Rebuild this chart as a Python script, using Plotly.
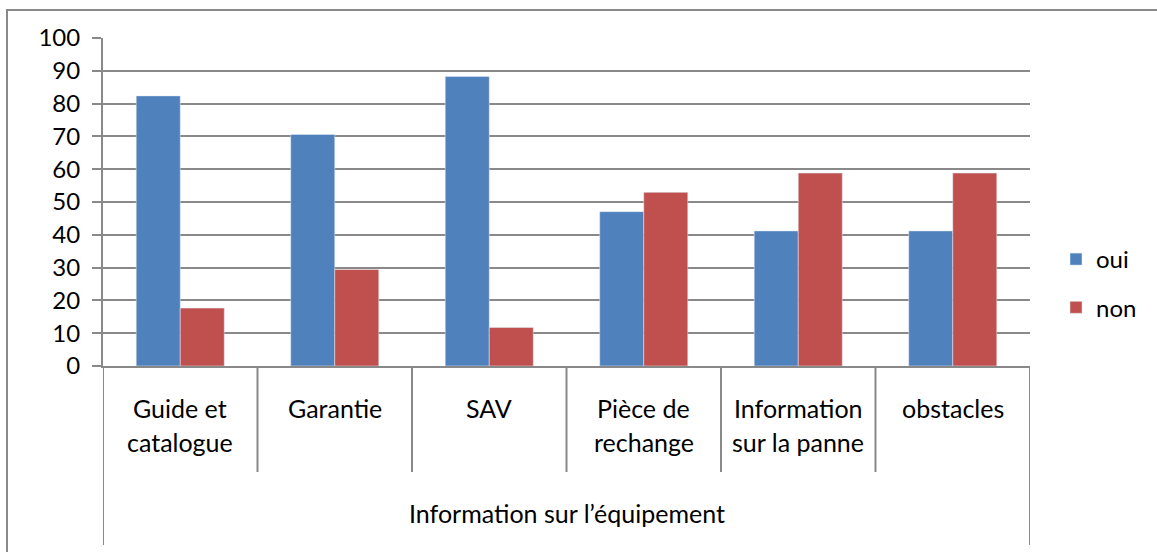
import plotly.graph_objects as go

categories = ["Guide et<br>catalogue", "Garantie", "SAV", "Pièce de<br>rechange",
              "Information<br>sur la panne", "obstacles"]
oui = [82.35, 70.59, 88.24, 47.06, 41.18, 41.18]
non = [17.65, 29.41, 11.76, 52.94, 58.82, 58.82]
series_names = ["oui", "non"]
group_title = "Information sur l’équipement"
y_ticks = list(range(0, 101, 10))

BLUE = "#4F81BD"
RED = "#C0504D"
GRID = "#898989"
FONT = "Lato"
FS = 25

W, H = 1157, 552
L, R, T, B = 103, 127, 38, 186
PH = H - T - B

def py(px):
    return (H - B - px) / PH

fig = go.Figure()
idx = list(range(len(categories)))
fig.add_trace(go.Bar(x=idx, y=oui, name=series_names[0], marker_color=BLUE,
                     legendgroup="a"))
fig.add_trace(go.Bar(x=idx, y=non, name=series_names[1], marker_color=RED,
                     legendgroup="b"))

annotations = []
for i, cat in enumerate(categories):
    lines = cat.split("<br>")
    ys = [408, 442]
    for j, line in enumerate(lines):
        annotations.append(dict(x=i, xref="x", y=py(ys[j]), yref="paper",
                                text=line, showarrow=False, yanchor="middle",
                                xanchor="center", font=dict(size=FS, color="#000", family=FONT)))
annotations.append(dict(x=(len(categories) - 1) / 2, xref="x", y=py(513), yref="paper",
                        text=group_title, showarrow=False, yanchor="middle",
                        font=dict(size=FS, color="#000", family=FONT)))

shapes = []
n = len(categories)
for k in range(n + 1):
    bottom = 545 if k in (0, n) else 472
    shapes.append(dict(type="line", xref="x", yref="paper", x0=k - 0.5, x1=k - 0.5,
                       y0=0, y1=py(bottom), line=dict(color=GRID, width=2)))
# outer chart border
shapes.append(dict(type="rect", xref="paper", yref="paper",
                   x0=(7 - L) / (W - L - R), x1=1.3, y0=-0.8, y1=py(10),
                   line=dict(color=GRID, width=2), fillcolor="rgba(0,0,0,0)", layer="below"))

fig.update_layout(
    width=W, height=H,
    margin=dict(l=L, r=R, t=T, b=B, autoexpand=False),
    paper_bgcolor="white", plot_bgcolor="white",
    barmode="group", bargap=0.43, bargroupgap=0,
    font=dict(family=FONT, size=FS, color="#000"),
    showlegend=True,
    legend=dict(x=(1056 - L) / (W - L - R), xanchor="left", y=py(283.5), yanchor="middle",
                font=dict(size=24, family=FONT), tracegroupgap=14, bgcolor="rgba(0,0,0,0)"),
    xaxis=dict(range=[-0.5, n - 0.5], showticklabels=False, showgrid=False,
               showline=True, linecolor=GRID, linewidth=2, ticks="", zeroline=False,
               fixedrange=True),
    yaxis=dict(range=[0, 100], tickvals=y_ticks, ticks="outside", ticklen=9,
               tickcolor=GRID, tickwidth=2, showgrid=True, gridcolor=GRID, gridwidth=2,
               showline=True, linecolor=GRID, linewidth=2, zeroline=False,
               ticklabelstandoff=7, tickfont=dict(size=24, family=FONT)),
    annotations=annotations, shapes=shapes,
)

fig.write_html("out.html")
